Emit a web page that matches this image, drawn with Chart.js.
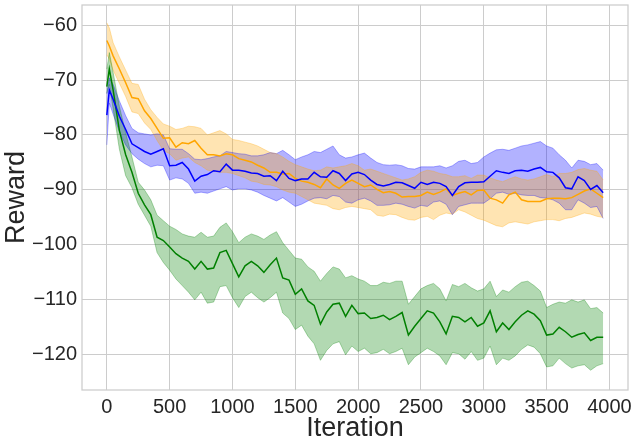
<!DOCTYPE html>
<html><head><meta charset="utf-8">
<script src="https://cdn.jsdelivr.net/npm/chart.js@4.4.1/dist/chart.umd.min.js"></script>
<style>html,body{margin:0;padding:0;background:#fff}</style>
</head><body>
<canvas id="c" width="631" height="445" style="width:631px;height:445px;display:block"></canvas>
<script>
const iterations = [0,20,50,100,150,200,250,300,350,400,
450,500,550,600,650,700,750,800,850,900,
950,1000,1050,1100,1150,1200,1250,1300,1350,1400,
1450,1500,1550,1600,1650,1700,1750,1800,1850,1900,
1950,2000,2050,2100,2150,2200,2250,2300,2350,2400,
2450,2500,2550,2600,2650,2700,2750,2800,2850,2900,
2950,3000,3050,3100,3150,3200,3250,3300,3350,3400,
3450,3500,3550,3600,3650,3700,3750,3800,3850,3900,
3950];

const orangeMean = [-62.8,-63.8,-65.6,-68.0,-70.5,-73.2,-73.4,-75.6,-77.0,-78.8,
-80.6,-80.5,-82.2,-81.4,-81.6,-81.0,-82.4,-83.6,-83.6,-83.8,
-83.4,-83.6,-84.3,-84.6,-84.9,-85.5,-86.0,-86.8,-86.8,-87.1,
-87.0,-87.9,-88.4,-88.6,-89.0,-89.6,-88.0,-89.1,-89.7,-88.8,
-88.2,-88.8,-89.4,-89.1,-89.9,-90.5,-90.3,-90.6,-91.3,-91.2,
-91.2,-91.0,-90.4,-90.8,-90.4,-89.8,-91.0,-90.6,-90.3,-90.9,
-90.1,-90.0,-91.5,-91.8,-92.4,-90.9,-90.4,-91.8,-92.1,-92.1,
-92.1,-91.6,-91.5,-91.5,-91.6,-91.4,-90.8,-90.2,-89.8,-90.6,
-91.4];
const orangeUpper = [-59.6,-60.5,-63.2,-65.8,-68.2,-70.6,-70.8,-73.5,-75.4,-76.8,
-78.0,-78.4,-79.0,-78.8,-78.4,-78.5,-78.8,-80.0,-79.6,-79.2,
-79.8,-80.8,-81.0,-81.3,-81.6,-82.0,-82.6,-83.2,-83.4,-84.0,
-84.8,-85.4,-85.8,-86.2,-86.5,-86.4,-85.8,-86.0,-85.8,-85.6,
-85.2,-85.6,-86.4,-86.2,-86.6,-87.0,-87.4,-87.8,-88.2,-88.0,
-87.6,-86.8,-86.4,-86.6,-87.0,-87.2,-87.6,-87.6,-87.4,-87.9,
-87.3,-87.3,-87.8,-88.2,-88.5,-88.0,-87.6,-88.0,-88.2,-88.0,
-87.6,-87.2,-87.6,-87.0,-87.0,-86.8,-86.3,-86.1,-86.4,-86.6,
-88.2];
const orangeLower = [-65.4,-66.2,-68.2,-70.6,-73.0,-75.8,-76.1,-77.8,-79.0,-81.0,
-82.8,-83.4,-84.6,-84.2,-84.0,-85.0,-85.6,-86.4,-86.6,-86.8,
-86.8,-87.0,-87.4,-87.8,-88.4,-88.6,-89.0,-89.1,-89.4,-90.0,
-90.4,-90.6,-91.2,-91.8,-92.4,-92.6,-92.8,-93.4,-93.6,-93.2,
-93.0,-93.2,-93.4,-93.6,-94.6,-94.8,-94.4,-94.5,-95.0,-95.4,
-95.5,-95.0,-94.8,-95.4,-94.6,-94.2,-94.4,-93.6,-94.0,-94.6,
-95.2,-95.5,-96.0,-96.5,-96.7,-96.0,-95.8,-96.0,-96.2,-95.8,
-95.6,-95.4,-95.4,-95.6,-95.2,-95.0,-94.6,-94.2,-94.4,-94.8,
-95.0];

const blueMean = [-76.4,-71.8,-73.5,-76.6,-79.0,-81.6,-82.3,-83.0,-83.5,-83.0,
-82.5,-85.6,-85.5,-85.0,-86.2,-88.4,-87.5,-87.2,-86.5,-86.7,
-85.3,-86.4,-86.4,-86.6,-86.9,-87.0,-87.5,-87.4,-88.3,-86.6,
-87.9,-88.3,-88.0,-88.0,-86.8,-87.6,-87.7,-86.5,-87.0,-88.3,
-87.1,-86.8,-87.2,-88.2,-89.0,-89.3,-89.0,-88.6,-88.7,-89.2,
-89.7,-88.6,-89.0,-88.6,-88.8,-89.4,-91.0,-89.4,-88.7,-88.6,
-88.6,-88.5,-87.5,-86.5,-86.8,-87.0,-86.5,-86.4,-86.6,-86.2,
-85.9,-86.7,-86.8,-87.8,-89.6,-89.8,-87.6,-88.3,-89.9,-89.2,
-90.5];
const blueUpper = [-72.5,-69.6,-70.8,-73.8,-76.5,-78.8,-79.6,-79.8,-80.0,-79.8,
-80.0,-82.5,-82.6,-82.6,-83.4,-84.4,-84.5,-84.3,-84.0,-83.8,
-83.0,-83.2,-83.4,-83.5,-83.8,-83.8,-83.6,-83.2,-83.4,-82.8,
-83.6,-84.5,-84.0,-83.6,-83.0,-83.2,-82.6,-82.0,-83.6,-84.2,
-84.0,-83.6,-83.3,-84.2,-85.0,-85.4,-85.5,-85.4,-85.6,-86.1,
-86.2,-85.8,-85.8,-85.8,-85.6,-86.0,-85.6,-84.8,-84.6,-85.2,
-85.0,-84.0,-83.3,-82.7,-82.6,-82.8,-82.4,-82.0,-81.8,-81.5,
-81.2,-82.0,-82.4,-83.6,-84.6,-86.0,-84.6,-84.8,-85.4,-85.2,
-86.4];
const blueLower = [-81.8,-74.2,-76.2,-79.4,-81.8,-83.4,-84.4,-85.2,-85.8,-85.5,
-85.6,-88.2,-87.8,-88.0,-88.8,-90.6,-90.4,-90.6,-90.2,-89.8,
-89.4,-90.0,-89.8,-89.8,-90.0,-90.4,-91.0,-91.5,-92.0,-91.4,
-92.2,-93.0,-92.6,-92.0,-91.5,-91.4,-91.6,-91.0,-91.2,-92.2,
-92.4,-91.8,-91.5,-92.0,-92.8,-92.8,-92.7,-92.4,-92.6,-93.0,
-93.3,-92.8,-93.0,-92.2,-92.0,-92.6,-94.5,-93.0,-92.7,-92.4,
-92.4,-92.4,-91.6,-90.6,-90.4,-90.8,-90.6,-90.9,-91.0,-91.0,
-91.4,-91.5,-91.8,-92.4,-93.6,-93.6,-91.8,-92.4,-93.2,-93.0,
-95.2];

const greenMean = [-71.2,-68.0,-71.8,-79.2,-83.6,-86.8,-90.6,-92.7,-94.5,-98.6,
-99.2,-100.4,-101.6,-102.4,-103.0,-104.4,-103.0,-104.4,-104.2,-101.4,
-101.0,-103.4,-105.8,-103.8,-103.0,-103.8,-105.0,-103.6,-102.4,-106.0,
-106.4,-109.0,-108.0,-110.2,-111.0,-114.4,-112.2,-110.8,-110.6,-113.0,
-111.0,-112.5,-112.4,-113.4,-113.2,-112.8,-113.6,-113.0,-112.3,-116.4,
-114.8,-113.4,-112.0,-112.4,-114.0,-116.2,-113.0,-113.2,-114.0,-113.2,
-114.8,-114.2,-112.0,-115.8,-114.2,-115.4,-114.0,-112.8,-112.0,-112.6,
-113.8,-116.4,-116.2,-115.0,-115.8,-116.8,-116.3,-116.0,-117.4,-116.8,
-116.8];
const greenUpper = [-68.0,-65.0,-68.6,-74.8,-79.6,-84.0,-88.6,-90.0,-91.8,-94.6,
-95.6,-96.6,-97.2,-98.0,-98.4,-98.6,-97.7,-98.6,-98.4,-96.8,
-96.0,-97.6,-99.6,-98.6,-98.0,-98.4,-99.0,-98.2,-97.6,-99.6,
-101.0,-102.4,-102.6,-104.0,-104.8,-106.6,-105.2,-104.0,-104.4,-106.0,
-105.6,-106.2,-106.6,-107.4,-107.4,-106.8,-107.0,-106.6,-106.6,-110.8,
-109.4,-108.0,-107.4,-107.0,-108.0,-110.2,-107.2,-107.6,-107.0,-107.8,
-108.4,-108.0,-106.6,-109.4,-108.2,-108.6,-107.6,-106.8,-106.6,-107.4,
-108.4,-111.4,-110.8,-110.4,-110.6,-110.0,-110.4,-110.0,-111.6,-111.4,
-112.4];
const greenLower = [-72.4,-70.8,-75.2,-82.6,-87.4,-89.6,-92.6,-94.6,-96.6,-101.4,
-103.2,-104.6,-106.2,-107.4,-108.6,-110.0,-108.6,-110.6,-110.4,-107.6,
-107.4,-109.6,-111.4,-109.4,-108.6,-109.6,-110.4,-109.6,-108.6,-112.4,
-113.4,-115.4,-114.6,-116.6,-118.0,-121.0,-119.2,-118.0,-117.6,-120.0,
-118.4,-119.4,-118.8,-119.8,-119.6,-119.0,-119.8,-119.4,-118.8,-121.8,
-120.4,-119.6,-118.8,-119.4,-120.2,-121.8,-119.6,-119.8,-120.8,-119.4,
-121.0,-120.6,-118.4,-121.8,-120.6,-121.0,-120.2,-119.0,-118.2,-118.6,
-119.8,-122.2,-122.0,-120.6,-121.6,-122.4,-122.0,-121.8,-122.8,-122.0,
-121.6];

const xTicks = [0,500,1000,1500,2000,2500,3000,3500,4000];
const yTicks = [-120,-110,-100,-90,-80,-70,-60];
const xLabel = 'Iteration';
const yLabel = 'Reward';

const series = [
  {name:'green', mean:greenMean, upper:greenUpper, lower:greenLower, rgb:[0,128,0]},
  {name:'orange', mean:orangeMean, upper:orangeUpper, lower:orangeLower, rgb:[255,165,0]},
  {name:'blue', mean:blueMean, upper:blueUpper, lower:blueLower, rgb:[0,0,255]}
];

function pts(arr){ return arr.map((v,i)=>({x:iterations[i], y:v})); }

const datasets = [];
series.forEach(s => {
  const band = `rgba(${s.rgb[0]},${s.rgb[1]},${s.rgb[2]},0.3)`;
  datasets.push({label:s.name+' lower', data:pts(s.lower), borderColor:band, borderWidth:1, pointRadius:0, fill:false, tension:0, order:2});
  datasets.push({label:s.name+' upper', data:pts(s.upper), borderColor:band, borderWidth:1, backgroundColor:band, pointRadius:0, fill:'-1', tension:0, order:2});
});
series.forEach((s,k) => {
  const solid = `rgb(${s.rgb[0]},${s.rgb[1]},${s.rgb[2]})`;
  datasets.push({label:s.name, data:pts(s.mean), borderColor:solid, borderWidth:1.5, pointRadius:0, fill:false, tension:0, order:1-k*0.1});
});

const frame = {
  id:'frame',
  afterDraw(chart){
    const {ctx, chartArea:a} = chart;
    ctx.save();
    ctx.strokeStyle = '#cccccc';
    ctx.lineWidth = 1.25;
    ctx.strokeRect(a.left, a.top, a.right-a.left, a.bottom-a.top);
    ctx.restore();
  }
};

const tickFont = {family:'Liberation Sans', size:20};
const titleFont = {family:'Liberation Sans', size:27};

new Chart(document.getElementById('c'), {
  type:'line',
  data:{datasets},
  plugins:[frame],
  options:{
    responsive:false,
    animation:false,
    devicePixelRatio:1,
    layout:{padding:{top:5, right:3, left:0, bottom:0}},
    plugins:{legend:{display:false}, tooltip:{enabled:false}, filler:{drawTime:'beforeDatasetsDraw'}},
    scales:{
      x:{
        type:'linear', min:-197.5, max:4147.5,
        afterBuildTicks(scale){ scale.ticks = xTicks.map(v=>({value:v})); },
        afterFit(scale){ scale.height = 55; scale.paddingLeft = 0; scale.paddingRight = 0; },
        grid:{color:'#cccccc', lineWidth:1, drawTicks:false},
        border:{display:false},
        ticks:{font:tickFont, color:'#262626', padding:5, maxRotation:0, autoSkip:false,
          callback:(v)=> String(v)},
        title:{display:true, text:xLabel, font:titleFont, color:'#262626', padding:{top:0,bottom:0}}
      },
      y:{
        type:'linear', min:-126.4, max:-56.35,
        afterBuildTicks(scale){ scale.ticks = yTicks.map(v=>({value:v})); },
        afterFit(scale){ scale.width = 82; scale.paddingTop = 0; scale.paddingBottom = 0; },
        grid:{color:'#cccccc', lineWidth:1, drawTicks:false},
        border:{display:false},
        ticks:{font:tickFont, color:'#262626', padding:5, autoSkip:false,
          callback:(v)=> String(v).replace('-', '\u2212')},
        title:{display:true, text:yLabel, font:titleFont, color:'#262626', padding:{top:0,bottom:0}}
      }
    }
  }
});
</script>
</body></html>
